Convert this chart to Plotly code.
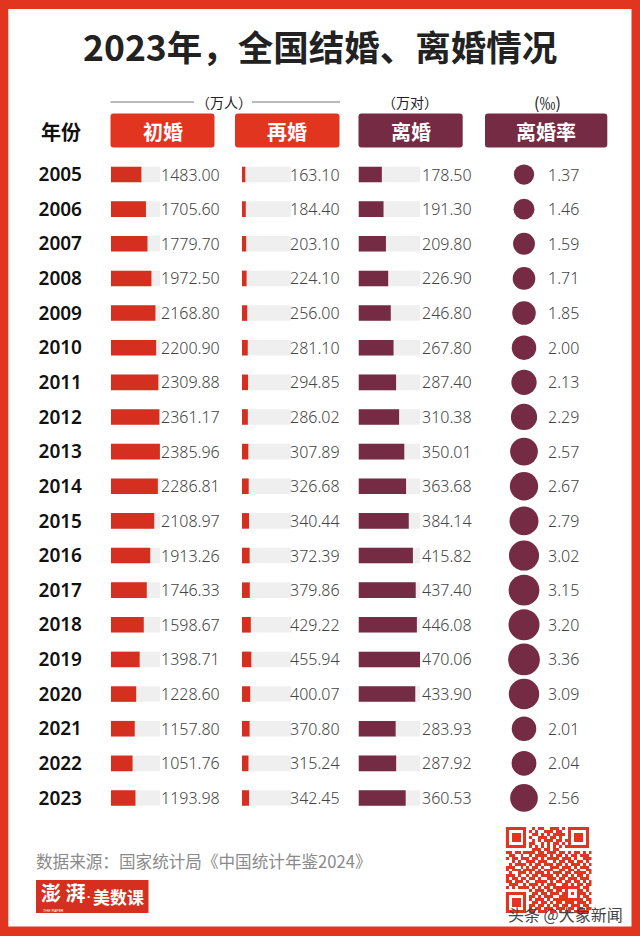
import plotly.graph_objects as go

# Data
years = [str(y) for y in range(2005, 2024)]
first_marriage = [1483.00, 1705.60, 1779.70, 1972.50, 2168.80, 2200.90, 2309.88, 2361.17, 2385.96, 2286.81,
                  2108.97, 1913.26, 1746.33, 1598.67, 1398.71, 1228.60, 1157.80, 1051.76, 1193.98]
remarriage = [163.10, 184.40, 203.10, 224.10, 256.00, 281.10, 294.85, 286.02, 307.89, 326.68,
              340.44, 372.39, 379.86, 429.22, 455.94, 400.07, 370.80, 315.24, 342.45]
divorce = [178.50, 191.30, 209.80, 226.90, 246.80, 267.80, 287.40, 310.38, 350.01, 363.68,
           384.14, 415.82, 437.40, 446.08, 470.06, 433.90, 283.93, 287.92, 360.53]
divorce_rate = [1.37, 1.46, 1.59, 1.71, 1.85, 2.00, 2.13, 2.29, 2.57, 2.67,
                2.79, 3.02, 3.15, 3.20, 3.36, 3.09, 2.01, 2.04, 2.56]

marriage_max = 2390
divorce_max = 470.06

qr_rows = [
    "11111110010110011101011111110",
    "10000010101001110110010000010",
    "10111010011010101111010111010",
    "10111010100111011010010111010",
    "10111010010101110110110111010",
    "10000010110010101101010000010",
    "11111110101010101010111111110",
    "00000000011101101100000000000",
    "11011011110110111011010110101",
    "01100100101111010110101101110",
    "10110111011010111101110100111",
    "00101001110111001011011011010",
    "01011110101101110110101110101",
    "11100101011010011101110101110",
    "10111011110101110011011010011",
    "01001110101110101110110111101",
    "11101001011011110101101011010",
    "10110110110100111011011101110",
    "11011101001111010110110110101",
    "01110010111010111001101011011",
    "10101111010101101111111110110",
    "00000000101110110110100011010",
    "11111110011011011101101011101",
    "10000010110101110011100010110",
    "10111010101110101111111111011",
    "10111010011011010110111011101",
    "10111010110110101101101110110",
    "10000010101101110111011011011",
    "11111110110111011010110111110",
]

RED = "#E2351F"
BAR_RED = "#D5301F"
WINE = "#742B43"
TRACK = "#EFEFEF"
W, H = 640, 936
CJK = "Noto Sans CJK SC"


def px(x):
    return x / W


def py(y):
    return 1 - y / H


def rounded(x0, y0, x1, y1, r, color):
    # rounded rectangle in paper coordinates from pixel positions
    path = (f"M {px(x0 + r)} {py(y0)} L {px(x1 - r)} {py(y0)} Q {px(x1)} {py(y0)} {px(x1)} {py(y0 + r)} "
            f"L {px(x1)} {py(y1 - r)} Q {px(x1)} {py(y1)} {px(x1 - r)} {py(y1)} "
            f"L {px(x0 + r)} {py(y1)} Q {px(x0)} {py(y1)} {px(x0)} {py(y1 - r)} "
            f"L {px(x0)} {py(y0 + r)} Q {px(x0)} {py(y0)} {px(x0 + r)} {py(y0)} Z")
    return dict(type="path", xref="paper", yref="paper", path=path, fillcolor=color, line_width=0, layer="below")


def label(x, y, text, size, color="#222222", anchor="center", bold=False, font=CJK):
    fig.add_annotation(x=px(x), y=py(y), xref="paper", yref="paper", text=f"<b>{text}</b>" if bold else text,
                       showarrow=False, xanchor=anchor, yanchor="middle",
                       font=dict(family=font, size=size, color=color))


fig = go.Figure()

# Bars: track first, then value on top
columns = [(first_marriage, "x", BAR_RED, marriage_max),
           (remarriage, "x2", BAR_RED, marriage_max),
           (divorce, "x3", WINE, divorce_max)]
for values, xa, color, top in columns:
    fig.add_trace(go.Bar(x=[top] * len(years), y=years, orientation="h", xaxis=xa, yaxis="y",
                         marker=dict(color=TRACK, line_width=0), hoverinfo="skip"))
    fig.add_trace(go.Bar(x=values, y=years, orientation="h", xaxis=xa, yaxis="y",
                         marker=dict(color=color, line_width=0)))

# Rate bubbles
fig.add_trace(go.Scatter(x=[0] * len(years), y=years, mode="markers", xaxis="x4", yaxis="y",
                         marker=dict(size=divorce_rate, sizemode="area", sizeref=1 / 150, color=WINE,
                                     opacity=1, line_width=0)))

# QR code
fig.add_trace(go.Heatmap(z=[[int(c) for c in row] for row in qr_rows], xaxis="x5", yaxis="y2",
                         colorscale=[[0, "rgba(255,255,255,0)"], [1, RED]], showscale=False, xgap=0, ygap=0))

row_top = 157.2
row_bottom = 815.3
hidden = dict(visible=False, fixedrange=True)
fig.update_layout(
    width=W, height=H, margin=dict(l=0, r=0, t=0, b=0), showlegend=False,
    paper_bgcolor=RED, plot_bgcolor="rgba(0,0,0,0)", barmode="overlay", bargap=0.55,
    xaxis=dict(domain=[px(111), px(160)], range=[0, marriage_max], anchor="y", **hidden),
    xaxis2=dict(domain=[px(242), px(291)], range=[0, marriage_max], anchor="y", **hidden),
    xaxis3=dict(domain=[px(358.5), px(420)], range=[0, divorce_max], anchor="y", **hidden),
    xaxis4=dict(domain=[px(485), px(607)], range=[-39, 83], anchor="y", **hidden),
    xaxis5=dict(domain=[px(505.7), px(591.7)], range=[-0.5, 28.5], anchor="y2", **hidden),
    yaxis=dict(domain=[py(row_bottom), py(row_top)], type="category", categoryorder="array", categoryarray=years,
               range=[18.5, -0.5], anchor="x", showline=False, showgrid=False, zeroline=False, ticks="",
               ticklabelstandoff=28, tickfont=dict(family="Noto Sans", size=19, color="#111111", weight=600),
               fixedrange=True),
    yaxis2=dict(domain=[py(913), py(827)], range=[28.5, -0.5], anchor="x5", **hidden),
    shapes=[
        dict(type="rect", xref="paper", yref="paper", x0=px(8.3), x1=px(631.5), y0=py(926.5), y1=py(9),
             fillcolor="white", line_width=0, layer="below"),
        rounded(110.5, 113.5, 214.5, 147.5, 3, RED),
        rounded(235, 113.5, 339.5, 147.5, 3, RED),
        rounded(358.5, 113.5, 462.7, 147.5, 3, WINE),
        rounded(485, 113.5, 607.3, 147.5, 3, WINE),
        dict(type="line", xref="paper", yref="paper", x0=px(110.5), x1=px(194), y0=py(102), y1=py(102),
             line=dict(color="#777777", width=1)),
        dict(type="line", xref="paper", yref="paper", x0=px(252), x1=px(340), y0=py(102), y1=py(102),
             line=dict(color="#777777", width=1)),
        dict(type="rect", xref="paper", yref="paper", x0=px(36), x1=px(148.5), y0=py(913), y1=py(880),
             fillcolor="#D5301F", line_width=0, layer="below"),
    ],
)

# Value labels
value_cols = [(first_marriage, 221.5), (remarriage, 342), (divorce, 473.5)]
for values, right in value_cols:
    for i, v in enumerate(values):
        fig.add_annotation(x=px(right), y=i, xref="paper", yref="y", text=f"{v:.2f}", showarrow=False,
                           xanchor="right", yanchor="middle",
                           font=dict(family="Noto Sans", size=16, color="#444444", weight=300))
for i, v in enumerate(divorce_rate):
    fig.add_annotation(x=px(546), y=i, xref="paper", yref="y", text=f"{v:.2f}", showarrow=False,
                       xanchor="left", yanchor="middle",
                       font=dict(family="Noto Sans", size=16, color="#444444", weight=300))

# Texts
label(320, 45, "2023年，全国结婚、离婚情况", 35.5, bold=True)
label(224, 102, "（万人）", 14)
label(410, 102, "（万对）", 14)
label(547, 102, "(‰)", 16)
label(61, 132, "年份", 20, color="#111111", bold=True)
label(162.5, 132, "初婚", 20, color="white", bold=True)
label(287, 132, "再婚", 20, color="white", bold=True)
label(410.5, 132, "离婚", 20, color="white", bold=True)
label(546, 132, "离婚率", 20, color="white", bold=True)
label(34, 861, "数据来源：国家统计局《中国统计年鉴2024》", 16.6, color="#8A8A8A", anchor="left")
label(39, 892, "澎 湃", 20, color="white", anchor="left", bold=True)
label(85, 896, "·", 12, color="white", anchor="left", bold=True, font="Noto Sans")
label(91, 896, "美数课", 17, color="white", anchor="left", bold=True)
label(41, 910, "THE PAPER", 4, color="white", anchor="left", font="Noto Sans")
label(506, 914, "头条 @大象新闻", 16, color="#444444", anchor="left")

fig.write_html("out.html", config={"displayModeBar": False}, post_script="document.body.style.margin='0';")
